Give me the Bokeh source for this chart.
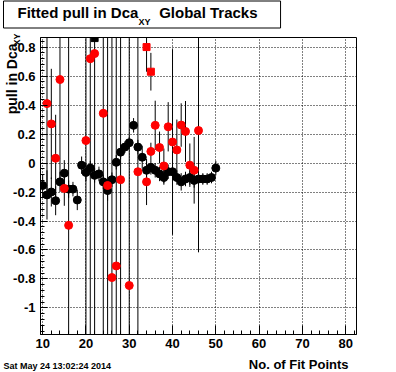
import math
from bokeh.plotting import figure
from bokeh.models import ColumnDataSource, FixedTicker, Label
from bokeh.embed import file_html
from bokeh.resources import INLINE

# ---------------- data ----------------
black_x = list(range(10, 51))
black_y = [-0.155, -0.22, -0.20, -0.26, -0.13, -0.07, -0.18, -0.18, -0.255, -0.015,
           -0.065, -0.035, -0.085, -0.075, -0.13, -0.19, -0.115, 0.005, 0.075, 0.11,
           0.14, 0.26, 0.11, 0.04, -0.05, -0.03, -0.05, -0.075, -0.10, -0.06,
           -0.06, -0.10, -0.13, -0.11, -0.10, -0.12, -0.11, -0.11, -0.11, -0.10,
           -0.035]
black_err = [0.08, 0.17, 0.10, 0.10, 0.07, 0.09, 0.06, 0.05, 0.07, 0.06,
             0.06, 0.05, 0.05, 0.05, 0.05, 0.07, 0.05, 0.05, 0.05, 0.04,
             0.04, 0.05, 0.05, 0.08, 0.06, 0.05, 0.05, 0.05, 0.05, 0.05,
             0.05, 0.05, 0.06, 0.05, 0.05, 0.05, 0.05, 0.04, 0.04, 0.04,
             0.05]

red_x = [11, 12, 13, 14, 15, 16, 20, 21, 22, 24, 25, 26, 27, 28, 30, 32,
         34, 35, 36, 37, 38, 39, 40, 41, 42, 43, 44, 45, 46]
red_y = [0.41, 0.27, 0.033, 0.576, -0.175, -0.43, 0.155, 0.72, 0.755, 0.343,
         -0.155, -0.79, -0.71, -0.115, -0.845, -0.06, -0.13, 0.08, 0.26, 0.107,
         -0.02, 0.25, 0.145, 0.09, 0.262, 0.218, -0.015, -0.05, 0.224]
red_err = [0.6, 0.38, 0.3, 0.7, 0.12, 3.0, 3.0, 3.0, 3.0, 3.0,
           3.0, 3.0, 3.0, 3.0, 3.0, 3.0, 0.16, 0.06, 0.17, 0.11,
           0.12, 0.17, 0.64, 0.21, 0.15, 0.21, 0.15, 0.23, 0.84]

blacksq_x = [22]
blacksq_y = [0.862]
blacksq_err = [0.0]
redsq_x = [34, 35]
redsq_y = [0.80, 0.63]
redsq_err = [0.17, 0.13]

x_ticks = [10, 20, 30, 40, 50, 60, 70, 80]
y_ticks = [-1, -0.8, -0.6, -0.4, -0.2, 0, 0.2, 0.4, 0.6, 0.8]
y_tick_labels = ["-1", "-0.8", "-0.6", "-0.4", "-0.2", "0", "0.2", "0.4", "0.6", "0.8"]

NBSP = "\u00a0"
title_main = "Fitted pull in Dca" + NBSP * 5 + "Global Tracks"
title_sub = "XY"
y_label = "pull in Dca"
y_label_sub = "XY"
x_label = "No. of Fit Points"
date_text = "Sat May 24 13:02:24 2014"

# ---------------- figure ----------------
X0, X1 = 9.5, 82.5
Y0, Y1 = -1.183, 0.866
W, H = 396, 372
FL, FR, FT, FB = 40, 40, 37, 38   # frame borders within the canvas

p = figure(width=W, height=H, x_range=(X0, X1), y_range=(Y0, Y1),
           output_backend="svg", toolbar_location=None, title=None,
           min_border_left=FL, min_border_right=FR,
           min_border_top=FT, min_border_bottom=FB)
p.background_fill_color = "white"
p.border_fill_color = "white"
p.outline_line_color = "black"
p.outline_line_width = 1

FONT = "Liberation Sans"

p.xaxis.ticker = FixedTicker(ticks=x_ticks,
                             minor_ticks=[v for v in range(10, 83, 2)])
p.yaxis.ticker = FixedTicker(ticks=y_ticks,
                             minor_ticks=[round(-1.16 + 0.04 * i, 2) for i in range(52)])
p.yaxis.major_label_overrides = {t: l for t, l in zip(y_ticks, y_tick_labels)}

for ax in (p.xaxis, p.yaxis):
    ax.axis_line_color = "black"
    ax.major_tick_line_color = "black"
    ax.minor_tick_line_color = "black"
    ax.major_tick_out = 0
    ax.minor_tick_out = 0
    ax.major_label_text_font = FONT
    ax.major_label_text_font_style = "bold"
    ax.major_label_text_font_size = "13px"
    ax.major_label_text_color = "black"
p.xaxis.major_tick_in = 9
p.xaxis.minor_tick_in = 4
p.yaxis.major_tick_in = 7
p.yaxis.minor_tick_in = 4
p.xaxis.major_label_standoff = 4
p.yaxis.major_label_standoff = 5

for g in (p.xgrid, p.ygrid):
    g.grid_line_color = "black"
    g.grid_line_dash = "1 2"
    g.grid_line_width = 1

# ---------------- data glyphs ----------------
def src(xs, ys, es):
    return ColumnDataSource(dict(x=xs, y=ys,
                                 lo=[a - b for a, b in zip(ys, es)],
                                 hi=[a + b for a, b in zip(ys, es)]))

bsrc = src(black_x, black_y, black_err)
rsrc = src(red_x, red_y, red_err)
bqsrc = src(blacksq_x, blacksq_y, blacksq_err)
rqsrc = src(redsq_x, redsq_y, redsq_err)

p.segment(x0="x", y0="lo", x1="x", y1="hi", source=bsrc, line_color="black", line_width=1)
p.scatter(x="x", y="y", source=bsrc, marker="circle", size=8,
          fill_color="black", line_color="black")
p.segment(x0="x", y0="lo", x1="x", y1="hi", source=rsrc, line_color="black", line_width=1)
p.segment(x0="x", y0="lo", x1="x", y1="hi", source=rqsrc, line_color="black", line_width=1)
p.scatter(x="x", y="y", source=rsrc, marker="circle", size=8,
          fill_color="red", line_color="red")
p.scatter(x="x", y="y", source=rqsrc, marker="square", size=7,
          fill_color="red", line_color="red")
p.scatter(x="x", y="y", source=bqsrc, marker="square", size=7,
          fill_color="black", line_color="black")

# ---------------- text annotations (positions in window pixels) ----------------
# Labels live in the side panels so that they are not clipped to the frame;
# each panel's total size stays within its border.
PXX = (W - FL - FR) / (X1 - X0)
PXY = (H - FT - FB) / (Y1 - Y0)

def xd(ax):
    return X0 + (ax - FL) / PXX

def yd(ay):
    return Y1 - (ay - FT) / PXY

def lab(place, text, ax, ay, size, **kw):
    l = Label(x=xd(ax), y=yd(ay), text=text, text_font=FONT,
              text_font_style="bold", text_font_size=size,
              text_color="black", **kw)
    p.add_layout(l, place)
    return l

lab("above", title_main, 3, 14, "15px", text_baseline="alphabetic",
    border_line_color="black", border_line_width=1,
    background_fill_color="white",
    padding=dict(left=14, right=23, top=3, bottom=7))
lab("above", date_text, 3, 365, "9px", text_baseline="alphabetic")
lab("right", title_sub, 138, 21, "9px", text_baseline="alphabetic")

lab("right", y_label, 11, 43, "14px", angle=math.pi / 2, text_align="right",
    text_baseline="alphabetic")
lab("left", y_label_sub, 16, 33, "9px", angle=math.pi / 2, text_align="right",
    text_baseline="alphabetic")

lab("below", x_label, 348, 364, "13px", text_align="right", text_baseline="alphabetic")

open("out.html", "w").write(file_html(p, INLINE))
